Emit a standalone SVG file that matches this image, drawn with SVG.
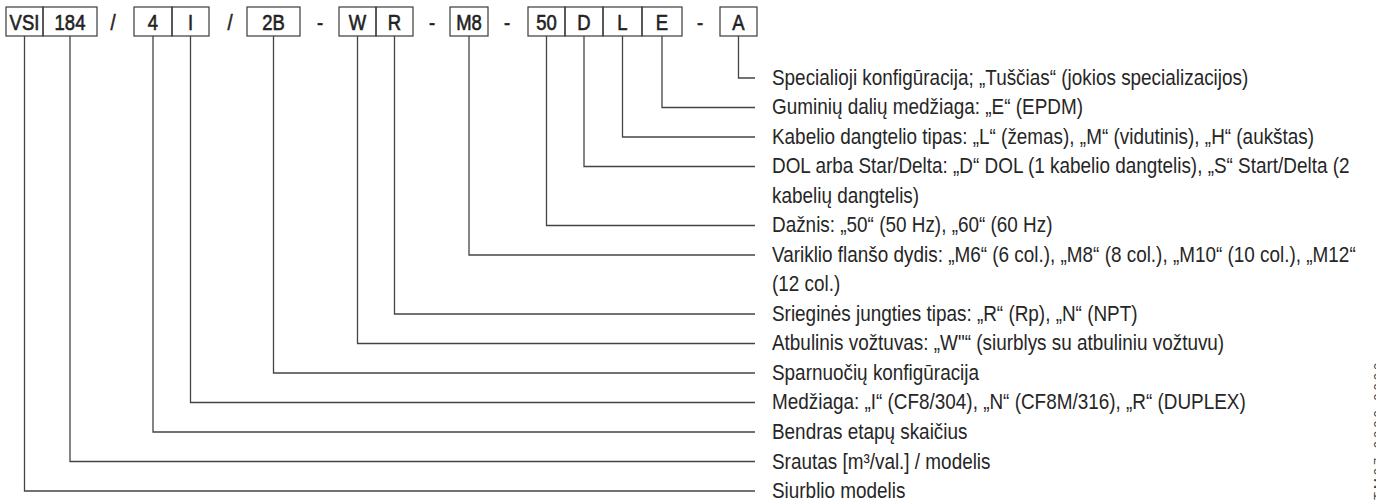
<svg xmlns="http://www.w3.org/2000/svg" width="1376" height="504" viewBox="0 0 1376 504">
<style>
.box{fill:none;stroke:#3a3a3a;stroke-width:1.2}
.bt{font-family:"Liberation Sans",Arial,sans-serif;font-size:22px;fill:#222;stroke:#222;stroke-width:0.6;text-anchor:middle}
.lbl{font-family:"Liberation Sans",Arial,sans-serif;font-size:22px;fill:#262626}
.con{fill:none;stroke:#444;stroke-width:1.3}
.side{font-family:"Liberation Sans",Arial,sans-serif;font-size:13px;fill:#444;letter-spacing:3px}
</style>
<rect width="1376" height="504" fill="#fff"/>
<g id="code">
  <g id="n-vsi"><rect class="box" x="6" y="7" width="37" height="29"/><text class="bt" transform="translate(24.5 29.5) scale(0.84 1)">VSI</text></g>
  <g id="n-184"><rect class="box" x="43" y="7" width="54" height="29"/><text class="bt" transform="translate(70 29.5) scale(0.84 1)">184</text></g>
  <text class="bt" transform="translate(113 29.5) scale(0.84 1)">/</text>
  <g id="n-4"><rect class="box" x="134" y="7" width="38" height="29"/><text class="bt" transform="translate(153 29.5) scale(0.84 1)">4</text></g>
  <g id="n-i"><rect class="box" x="172" y="7" width="37" height="29"/><text class="bt" transform="translate(190.5 29.5) scale(0.84 1)">I</text></g>
  <text class="bt" transform="translate(230 29.5) scale(0.84 1)">/</text>
  <g id="n-2b"><rect class="box" x="247" y="7" width="53" height="29"/><text class="bt" transform="translate(273.5 29.5) scale(0.84 1)">2B</text></g>
  <text class="bt" transform="translate(320 29.5) scale(0.84 1)">-</text>
  <g id="n-w"><rect class="box" x="339" y="7" width="37" height="29"/><text class="bt" transform="translate(357.5 29.5) scale(0.84 1)">W</text></g>
  <g id="n-r"><rect class="box" x="376" y="7" width="37" height="29"/><text class="bt" transform="translate(394.5 29.5) scale(0.84 1)">R</text></g>
  <text class="bt" transform="translate(432 29.5) scale(0.84 1)">-</text>
  <g id="n-m8"><rect class="box" x="450" y="7" width="38" height="29"/><text class="bt" transform="translate(469 29.5) scale(0.84 1)">M8</text></g>
  <text class="bt" transform="translate(507 29.5) scale(0.84 1)">-</text>
  <g id="n-50"><rect class="box" x="528" y="7" width="37" height="29"/><text class="bt" transform="translate(546.5 29.5) scale(0.84 1)">50</text></g>
  <g id="n-d"><rect class="box" x="565" y="7" width="38" height="29"/><text class="bt" transform="translate(584 29.5) scale(0.84 1)">D</text></g>
  <g id="n-l"><rect class="box" x="603" y="7" width="39" height="29"/><text class="bt" transform="translate(622.5 29.5) scale(0.84 1)">L</text></g>
  <g id="n-e"><rect class="box" x="642" y="7" width="40" height="29"/><text class="bt" transform="translate(662 29.5) scale(0.84 1)">E</text></g>
  <text class="bt" transform="translate(700 29.5) scale(0.84 1)">-</text>
  <g id="n-a"><rect class="box" x="720" y="7" width="37" height="29"/><text class="bt" transform="translate(738.5 29.5) scale(0.84 1)">A</text></g>
</g>
<g id="connectors">
  <path class="con" d="M738.5 36V78H755"/>
  <path class="con" d="M662 36V107.5H755"/>
  <path class="con" d="M622.5 36V137H755"/>
  <path class="con" d="M584 36V166.5H755"/>
  <path class="con" d="M546.5 36V225.5H755"/>
  <path class="con" d="M469 36V255H755"/>
  <path class="con" d="M394.5 36V314H755"/>
  <path class="con" d="M357.5 36V343.5H755"/>
  <path class="con" d="M273.5 36V373H755"/>
  <path class="con" d="M190.5 36V402.5H755"/>
  <path class="con" d="M153 36V432H755"/>
  <path class="con" d="M70 36V461.5H755"/>
  <path class="con" d="M24.5 36V491H755"/>
</g>
<g id="labels" transform="translate(772 0) scale(0.86 1)">
  <text class="lbl" x="0" y="85">Specialioji konfigūracija; „Tuščias“ (jokios specializacijos)</text>
  <text class="lbl" x="0" y="114.5">Guminių dalių medžiaga: „E“ (EPDM)</text>
  <text class="lbl" x="0" y="144">Kabelio dangtelio tipas: „L“ (žemas), „M“ (vidutinis), „H“ (aukštas)</text>
  <text class="lbl" x="0" y="173.5">DOL arba Star/Delta: „D“ DOL (1 kabelio dangtelis), „S“ Start/Delta (2</text>
  <text class="lbl" x="0" y="203">kabelių dangtelis)</text>
  <text class="lbl" x="0" y="232.5">Dažnis: „50“ (50 Hz), „60“ (60 Hz)</text>
  <text class="lbl" x="0" y="262">Variklio flanšo dydis: „M6“ (6 col.), „M8“ (8 col.), „M10“ (10 col.), „M12“</text>
  <text class="lbl" x="0" y="291.5">(12 col.)</text>
  <text class="lbl" x="0" y="321">Srieginės jungties tipas: „R“ (Rp), „N“ (NPT)</text>
  <text class="lbl" x="0" y="350.5">Atbulinis vožtuvas: „W"“ (siurblys su atbuliniu vožtuvu)</text>
  <text class="lbl" x="0" y="380">Sparnuočių konfigūracija</text>
  <text class="lbl" x="0" y="409.5">Medžiaga: „I“ (CF8/304), „N“ (CF8M/316), „R“ (DUPLEX)</text>
  <text class="lbl" x="0" y="439">Bendras etapų skaičius</text>
  <text class="lbl" x="0" y="468.5">Srautas [m³/val.] / modelis</text>
  <text class="lbl" x="0" y="498">Siurblio modelis</text>
</g>
<text class="side" transform="translate(1383 500) rotate(-90)">TM07 0000 0000</text>
</svg>
